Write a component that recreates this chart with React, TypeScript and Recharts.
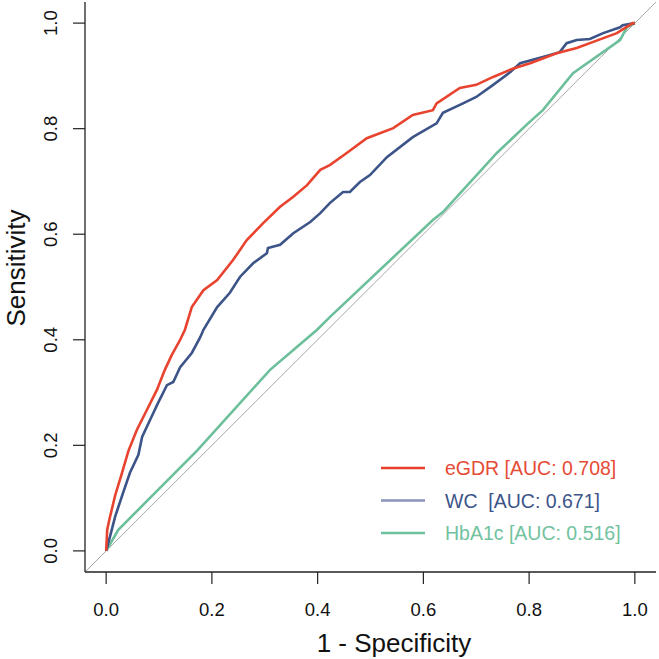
import React from "react";
import { Line, LineChart, XAxis, YAxis } from "recharts";

// ROC points: [1 - specificity, sensitivity]
const egdrPoints = [
  [0, 0], [0.002, 0.04], [0.006, 0.059], [0.017, 0.105], [0.03, 0.148], [0.042, 0.189],
  [0.058, 0.229], [0.077, 0.267], [0.096, 0.305], [0.111, 0.343], [0.124, 0.371],
  [0.14, 0.4], [0.149, 0.419], [0.162, 0.462], [0.184, 0.494], [0.21, 0.513],
  [0.24, 0.551], [0.266, 0.589], [0.297, 0.621], [0.329, 0.652], [0.354, 0.671],
  [0.38, 0.693], [0.405, 0.722], [0.423, 0.731], [0.455, 0.754], [0.493, 0.782],
  [0.543, 0.801], [0.58, 0.826], [0.618, 0.835], [0.625, 0.848], [0.669, 0.877],
  [0.7, 0.883], [0.732, 0.898], [0.77, 0.914], [0.802, 0.924], [0.852, 0.943],
  [0.89, 0.953], [0.92, 0.964], [0.966, 0.981], [0.996, 1.0], [1, 1]
];

const wcPoints = [
  [0, 0], [0.008, 0.03], [0.017, 0.065], [0.032, 0.11], [0.045, 0.148], [0.061, 0.182],
  [0.068, 0.216], [0.083, 0.248], [0.098, 0.28], [0.115, 0.314], [0.127, 0.32],
  [0.14, 0.348], [0.162, 0.375], [0.178, 0.405], [0.184, 0.419], [0.21, 0.462],
  [0.234, 0.489], [0.253, 0.519], [0.278, 0.545], [0.304, 0.564], [0.306, 0.574],
  [0.329, 0.58], [0.354, 0.602], [0.386, 0.623], [0.405, 0.64], [0.423, 0.659],
  [0.448, 0.68], [0.461, 0.68], [0.48, 0.699], [0.499, 0.712], [0.531, 0.746],
  [0.58, 0.784], [0.625, 0.81], [0.637, 0.83], [0.675, 0.848], [0.7, 0.86],
  [0.732, 0.883], [0.764, 0.907], [0.783, 0.924], [0.826, 0.936], [0.858, 0.945],
  [0.871, 0.962], [0.89, 0.968], [0.915, 0.97], [0.94, 0.981], [0.972, 0.992],
  [0.977, 0.996], [1, 1]
];

const hba1cPoints = [
  [0, 0], [0.023, 0.04], [0.172, 0.19], [0.31, 0.343], [0.399, 0.419], [0.423, 0.443],
  [0.618, 0.627], [0.637, 0.642], [0.739, 0.754], [0.798, 0.81], [0.826, 0.835],
  [0.883, 0.905], [0.972, 0.968], [0.985, 0.992], [1, 1]
];

const chanceLine = [[-0.04, -0.04], [1.04, 1.04]];

const axisTicks = [0, 0.2, 0.4, 0.6, 0.8, 1.0];
const axisDomain = [-0.04, 1.04];

const seriesNames = ["eGDR", "WC", "HbA1c"];
const legendLabels = ["eGDR [AUC: 0.708]", "WC  [AUC: 0.671]", "HbA1c [AUC: 0.516]"];
const lineColors = ["#E8432E", "#3C5488", "#6CBF9A"];
const legendLineColors = ["#E8402B", "#8893B9", "#6CC29D"];
const legendTextColors = ["#E64B35", "#3C5488", "#72C29F"];

const toRows = (pts: number[][]) => pts.map(([x, y]) => ({ x, y }));

const FONT = "'Liberation Sans', Arial, Helvetica, sans-serif";
const BOX = "#222";

function XTick({ x, payload }: any) {
  return (
    <text x={x} y={616} textAnchor="middle" fontSize={18.5} fontFamily={FONT} fill="#111">
      {Number(payload.value).toFixed(1)}
    </text>
  );
}

function YTick({ y, payload }: any) {
  return (
    <text
      x={57}
      y={y}
      transform={`rotate(-90, 57, ${y})`}
      textAnchor="middle"
      fontSize={18.5}
      fontFamily={FONT}
      fill="#111"
    >
      {Number(payload.value).toFixed(1)}
    </text>
  );
}

function RocLegend() {
  return (
    <svg width={260} height={100} style={{ display: "block" }}>
      {legendLabels.map((label, i) => {
        const cy = 16 + i * 32.5;
        return (
          <g key={label}>
            <line x1={6} x2={50} y1={cy} y2={cy} stroke={legendLineColors[i]} strokeWidth={2.5} />
            <text
              x={70}
              y={cy + 7}
              fontSize={19.5}
              fontFamily={FONT}
              fill={legendTextColors[i]}
              style={{ whiteSpace: "pre" }}
            >
              {label}
            </text>
          </g>
        );
      })}
    </svg>
  );
}

export default function App() {
  const series = [egdrPoints, wcPoints, hba1cPoints];
  return (
    <div style={{ position: "absolute", left: 0, top: 0, width: 659, height: 659, background: "#fff" }}>
      <LineChart width={659} height={659} margin={{ top: 2, right: 3, bottom: 0, left: 0 }}>
        <XAxis
          type="number"
          dataKey="x"
          domain={axisDomain}
          ticks={axisTicks}
          allowDataOverflow
          axisLine={{ stroke: BOX, strokeWidth: 1.3 }}
          tickSize={12}
          tickLine={{ stroke: BOX, strokeWidth: 1.2 }}
          tick={<XTick />}
          height={87}
          label={{
            content: () => (
              <text x={394} y={652} textAnchor="middle" fontSize={26} fontFamily={FONT} fill="#111">
                1 - Specificity
              </text>
            )
          }}
        />
        <XAxis
          xAxisId="top"
          orientation="top"
          type="number"
          dataKey="x"
          domain={axisDomain}
          allowDataOverflow
          axisLine={{ stroke: BOX, strokeWidth: 1.3 }}
          tick={false}
          tickLine={false}
          height={0}
        />
        <YAxis
          type="number"
          dataKey="y"
          domain={axisDomain}
          ticks={axisTicks}
          allowDataOverflow
          axisLine={{ stroke: BOX, strokeWidth: 1.3 }}
          tickSize={12}
          tickLine={{ stroke: BOX, strokeWidth: 1.2 }}
          tick={<YTick />}
          width={85}
          label={{
            content: () => (
              <text
                x={25}
                y={268}
                transform="rotate(-90, 25, 268)"
                textAnchor="middle"
                fontSize={26}
                fontFamily={FONT}
                fill="#111"
              >
                Sensitivity
              </text>
            )
          }}
        />
        <YAxis
          yAxisId="right"
          orientation="right"
          type="number"
          dataKey="y"
          domain={axisDomain}
          allowDataOverflow
          axisLine={{ stroke: BOX, strokeWidth: 1.3 }}
          tick={false}
          tickLine={false}
          width={0}
        />
        <Line
          data={toRows(chanceLine)}
          dataKey="y"
          stroke="#A8A8A8"
          strokeWidth={1}
          dot={false}
          activeDot={false}
          isAnimationActive={false}
        />
        {series
          .map((pts, i) => (
            <Line
              key={seriesNames[i]}
              name={seriesNames[i]}
              data={toRows(pts)}
              dataKey="y"
              type="linear"
              stroke={lineColors[i]}
              strokeWidth={2.6}
              dot={false}
              activeDot={false}
              isAnimationActive={false}
            />
          ))
          .reverse()}
      </LineChart>
      <div style={{ position: "absolute", left: 375, top: 452 }}>
        <RocLegend />
      </div>
    </div>
  );
}
